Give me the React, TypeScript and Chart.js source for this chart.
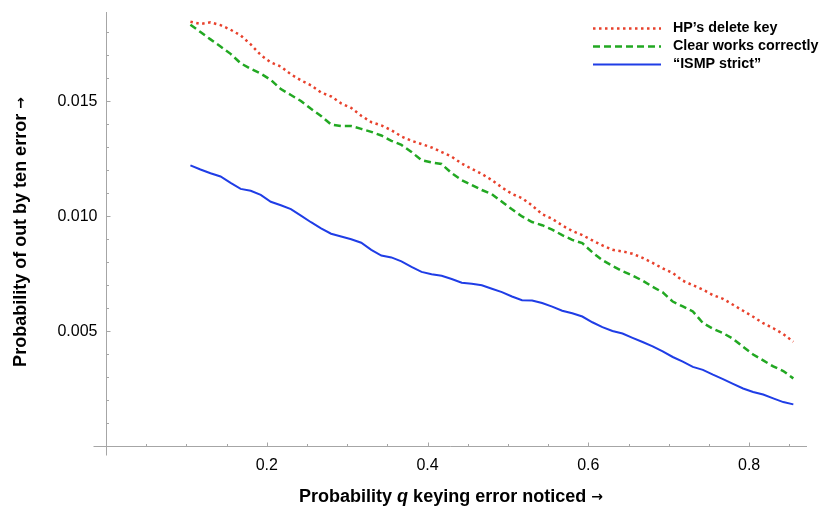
import React, { useEffect, useRef } from "react";
import { Chart, registerables } from "chart.js";

Chart.register(...registerables);

const xValues = [
  0.105, 0.1175, 0.13, 0.1425, 0.155, 0.1675, 0.18, 0.1925, 0.205, 0.2175,
  0.23, 0.2425, 0.255, 0.2675, 0.28, 0.2925, 0.305, 0.3175, 0.33, 0.3425,
  0.355, 0.3675, 0.38, 0.3925, 0.405, 0.4175, 0.43, 0.4425, 0.455, 0.4675,
  0.48, 0.4925, 0.505, 0.5175, 0.53, 0.5425, 0.555, 0.5675, 0.58, 0.5925,
  0.605, 0.6175, 0.63, 0.6425, 0.655, 0.6675, 0.68, 0.6925, 0.705, 0.7175,
  0.73, 0.7425, 0.755, 0.7675, 0.78, 0.7925, 0.805, 0.8175, 0.83, 0.8425,
  0.855,
];

const hpDeleteKey = [
  0.01845, 0.01835, 0.01842, 0.0183, 0.0181, 0.01785, 0.01746, 0.017, 0.01668, 0.0165,
  0.01616, 0.0159, 0.01568, 0.01537, 0.0152, 0.0149, 0.0147, 0.01436, 0.01408, 0.01394,
  0.01373, 0.01346, 0.01327, 0.01313, 0.01298, 0.01278, 0.01258, 0.01228, 0.01205, 0.01183,
  0.01156, 0.01124, 0.01096, 0.01078, 0.01046, 0.01008, 0.00988, 0.00959, 0.00935, 0.00917,
  0.00894, 0.00872, 0.00853, 0.00846, 0.00836, 0.00818, 0.00796, 0.00772, 0.00752, 0.00719,
  0.00699, 0.0068, 0.00656, 0.0064, 0.00614, 0.00588, 0.00562, 0.00534, 0.00512, 0.00487,
  0.00453,
];

const clearWorks = [
  0.01832, 0.018, 0.01768, 0.01737, 0.01705, 0.01664, 0.0164, 0.01619, 0.01592, 0.01552,
  0.01526, 0.015, 0.01466, 0.01435, 0.01398, 0.01391, 0.01391, 0.01379, 0.01366, 0.0135,
  0.01327, 0.01309, 0.01278, 0.01243, 0.01233, 0.01226, 0.01186, 0.01156, 0.01135, 0.01113,
  0.01095, 0.01062, 0.01029, 0.00998, 0.00974, 0.0096, 0.00941, 0.00917, 0.00896, 0.00882,
  0.00842, 0.00808, 0.00783, 0.0076, 0.00741, 0.00719, 0.00692, 0.00668, 0.00628, 0.00607,
  0.00585, 0.00535, 0.0051, 0.00491, 0.00466, 0.00431, 0.00398, 0.00372, 0.00346, 0.00326,
  0.00294,
];

const ismpStrict = [
  0.0122, 0.01202, 0.01186, 0.01172, 0.01144, 0.01118, 0.0111, 0.01092, 0.01062, 0.01047,
  0.0103, 0.01002, 0.00973, 0.00946, 0.00923, 0.00911, 0.00899, 0.00884, 0.00853, 0.00828,
  0.0082, 0.00803, 0.00779, 0.00757, 0.00747, 0.0074, 0.00726, 0.0071, 0.00705, 0.00699,
  0.00684, 0.00669, 0.0065, 0.00634, 0.00633, 0.00622, 0.00606, 0.00588, 0.00577, 0.00563,
  0.00538, 0.00517, 0.005, 0.00489, 0.0047, 0.00452, 0.00433, 0.00411, 0.00387, 0.00367,
  0.00344, 0.00331, 0.0031, 0.00291, 0.0027, 0.0025, 0.00235, 0.00224, 0.00207, 0.00191,
  0.00181,
];

const seriesNames = ["HP\u2019s delete key", "Clear works correctly", "\u201CISMP strict\u201D"];
const seriesColors = ["#e8412c", "#22a822", "#1f3de6"];
const seriesDashes = [[2.5, 3.5], [7, 4], []];

const xMajorTicks = [0.2, 0.4, 0.6, 0.8];
const xMajorLabels = ["0.2", "0.4", "0.6", "0.8"];
const xMinorTicks = [0.05, 0.1, 0.15, 0.25, 0.3, 0.35, 0.45, 0.5, 0.55, 0.65, 0.7, 0.75, 0.85];
const yMajorTicks = [0.005, 0.01, 0.015];
const yMajorLabels = ["0.005", "0.010", "0.015"];
const yMinorTicks = [0.001, 0.002, 0.003, 0.004, 0.006, 0.007, 0.008, 0.009, 0.011, 0.012, 0.013, 0.014, 0.016, 0.017, 0.018];

const FONT = "'Liberation Sans', Arial, sans-serif";
const ARROW_FONT = "'DejaVu Sans', sans-serif";

type Part = [string, string];
const xTitleParts: Part[] = [
  ["Probability ", `bold 18px ${FONT}`],
  ["q", `italic bold 18px ${FONT}`],
  [" keying error noticed ", `bold 18px ${FONT}`],
  ["\u2192", `bold 14px ${ARROW_FONT}`],
];
const yTitleParts: Part[] = [
  ["Probability of out by ten error ", `bold 18px ${FONT}`],
  ["\u2192", `bold 14px ${ARROW_FONT}`],
];

function drawParts(ctx: CanvasRenderingContext2D, parts: Part[], cx: number, cy: number) {
  ctx.textAlign = "left";
  ctx.textBaseline = "middle";
  let total = 0;
  parts.forEach(([t, f]) => {
    ctx.font = f;
    total += ctx.measureText(t).width;
  });
  let x = cx - total / 2;
  parts.forEach(([t, f]) => {
    ctx.font = f;
    ctx.fillText(t, x, cy);
    x += ctx.measureText(t).width;
  });
}

const axesPlugin = {
  id: "mmaAxes",
  beforeDatasetsDraw(chart: any) {
    const { ctx, scales } = chart;
    const xs = scales.x;
    const ys = scales.y;
    const x0 = Math.round(xs.getPixelForValue(0)) + 0.5;
    const y0 = Math.round(ys.getPixelForValue(0)) + 0.5;
    ctx.save();
    ctx.strokeStyle = "#a6a6a6";
    ctx.lineWidth = 1;
    ctx.beginPath();
    ctx.moveTo(x0 - 13, y0);
    ctx.lineTo(xs.right, y0);
    ctx.moveTo(x0, ys.top);
    ctx.lineTo(x0, y0 + 9);
    ctx.stroke();
    ctx.beginPath();
    xMajorTicks.forEach((v) => {
      const p = Math.round(xs.getPixelForValue(v)) + 0.5;
      ctx.moveTo(p, y0);
      ctx.lineTo(p, y0 - 4);
    });
    xMinorTicks.forEach((v) => {
      const p = Math.round(xs.getPixelForValue(v)) + 0.5;
      ctx.moveTo(p, y0);
      ctx.lineTo(p, y0 - 2.5);
    });
    yMajorTicks.forEach((v) => {
      const p = Math.round(ys.getPixelForValue(v)) + 0.5;
      ctx.moveTo(x0, p);
      ctx.lineTo(x0 + 4, p);
    });
    yMinorTicks.forEach((v) => {
      const p = Math.round(ys.getPixelForValue(v)) + 0.5;
      ctx.moveTo(x0, p);
      ctx.lineTo(x0 + 2.5, p);
    });
    ctx.stroke();

    ctx.fillStyle = "#000";
    ctx.font = `16px ${FONT}`;
    ctx.textAlign = "center";
    ctx.textBaseline = "middle";
    xMajorTicks.forEach((v, i) => {
      ctx.fillText(xMajorLabels[i], xs.getPixelForValue(v), y0 + 19);
    });
    ctx.textAlign = "right";
    yMajorTicks.forEach((v, i) => {
      ctx.fillText(yMajorLabels[i], x0 - 9, ys.getPixelForValue(v) + 1);
    });

    drawParts(ctx, xTitleParts, 451, 497);

    ctx.save();
    ctx.translate(21, 232);
    ctx.rotate(-Math.PI / 2);
    drawParts(ctx, yTitleParts, 0, 0);
    ctx.restore();
    ctx.restore();
  },
  afterDraw(chart: any) {
    const { ctx } = chart;
    ctx.save();
    const rows = [28.5, 46.5, 64.5];
    seriesNames.forEach((name, i) => {
      ctx.strokeStyle = seriesColors[i];
      ctx.lineWidth = i === 2 ? 2 : 2.5;
      ctx.setLineDash(seriesDashes[i]);
      ctx.beginPath();
      ctx.moveTo(593, rows[i]);
      ctx.lineTo(661, rows[i]);
      ctx.stroke();
      ctx.setLineDash([]);
      ctx.fillStyle = "#000";
      ctx.font = `bold 14.3px ${FONT}`;
      ctx.textAlign = "left";
      ctx.textBaseline = "middle";
      ctx.fillText(name, 673, rows[i]);
    });
    ctx.restore();
  },
};

export default function App() {
  const ref = useRef<HTMLCanvasElement>(null);
  useEffect(() => {
    const series = [hpDeleteKey, clearWorks, ismpStrict];
    const chart = new Chart(ref.current as HTMLCanvasElement, {
      type: "line",
      data: {
        datasets: series.map((vals, i) => ({
          label: seriesNames[i],
          data: xValues.map((x, j) => ({ x, y: vals[j] })),
          borderColor: seriesColors[i],
          borderWidth: i === 2 ? 2 : 2.5,
          borderDash: seriesDashes[i],
          pointRadius: 0,
          fill: false,
          tension: 0,
        })),
      },
      options: {
        responsive: false,
        animation: false,
        layout: { padding: { left: 106, right: 13, top: 12, bottom: 64 } },
        plugins: { legend: { display: false }, tooltip: { enabled: false } },
        scales: {
          x: { type: "linear", min: 0, max: 0.872, display: false },
          y: { type: "linear", min: 0, max: 0.01887, display: false },
        },
      },
      plugins: [axesPlugin],
    });
    return () => chart.destroy();
  }, []);
  return (
    <div style={{ position: "absolute", left: 0, top: 0, width: 820, height: 510, background: "#fff" }}>
      <canvas ref={ref} width={820} height={510} style={{ display: "block" }} />
    </div>
  );
}
